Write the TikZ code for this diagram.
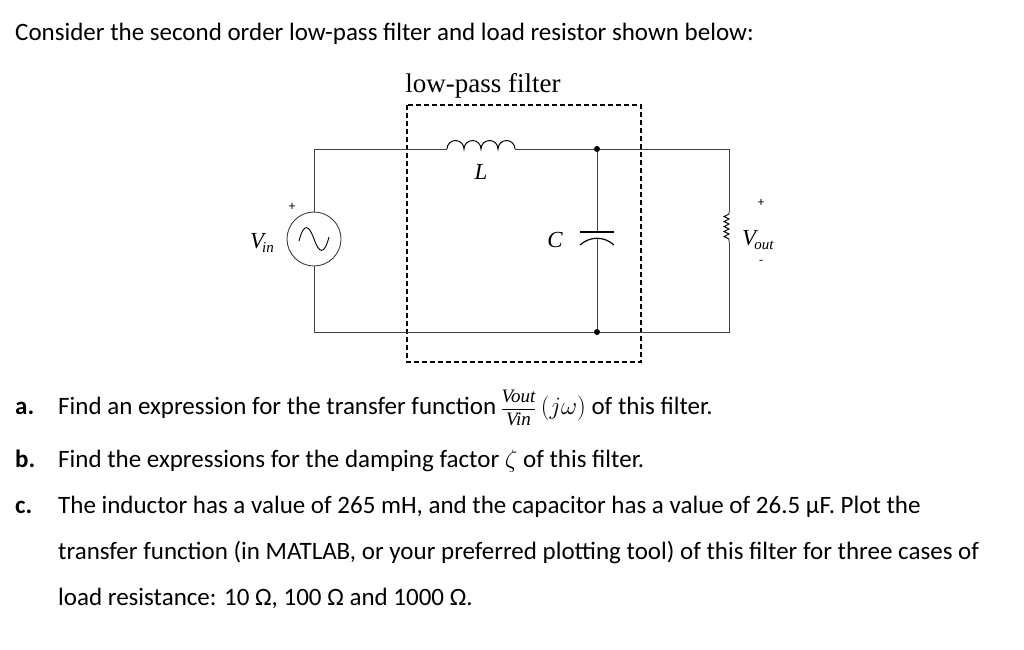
\documentclass[tikz,border=0pt]{standalone}
\usepackage{fontspec}
\setmainfont{Carlito}
\newfontfamily\serifx{Liberation Serif}
\begin{document}
\begin{tikzpicture}[x=1pt,y=-1pt,
  wire/.style={draw=black!75,line width=0.9pt},
  txt/.style={anchor=base west,inner sep=0pt,font=\fontsize{25}{30}\selectfont},
  lbl/.style={inner sep=0pt,font=\serifx\itshape\fontsize{23}{26}\selectfont},
  dot/.style={circle,fill=black,inner sep=0pt,minimum size=6pt}]
\useasboundingbox (0,0) rectangle (1024,649);
\node[txt] (t0) at (15,40) {Consider the second order low-pass filter and load resistor shown below:};
\node[inner sep=0pt,font=\serifx\fontsize{27}{30}\selectfont] (lp) at (483,86) {low-pass filter};
% dashed box
\draw[line width=1.3pt,dash pattern=on 5pt off 3pt] (407,105) rectangle (641,362);
% source
\node[circle,draw=black!75,line width=0.9pt,minimum size=54pt,inner sep=0pt] (src) at (314,239) {};
\draw[line width=0.9pt] (299,241) .. controls (304,222) and (309,225) .. (314,239) .. controls (319,253) and (324,256) .. (329,237);
\coordinate (tl) at (314,149);
\coordinate (bl) at (314,332);
\coordinate (tr) at (729,149);
\coordinate (br) at (729,332);
\coordinate (l1) at (447,149);
\coordinate (l2) at (515,149);
\node[dot] (ct) at (597,149) {};
\node[dot] (cb) at (597,332) {};
\coordinate (cp1) at (597,232);
\coordinate (cp2) at (597,239);
\coordinate (r1) at (729,212);
\coordinate (r2) at (729,242);
\path[wire] (src.north) -- (tl) -- (l1);
\path[wire] (l2) -- (ct) -- (tr) -- (r1);
\path[wire] (src.south) -- (bl) -- (cb) -- (br) -- (r2);
\path[wire] (ct) -- (cp1);
\path[wire] (cp2) -- (cb);
% inductor
\draw[line width=1pt] (l1) \foreach \i in {0,1,2,3} { arc[start angle=180,end angle=360,radius=8.5] };
% capacitor plates
\draw[line width=1.2pt] (580,232) -- (614,232);
\draw[line width=1.2pt] (580,245) .. controls (590,236) and (604,236) .. (614,245);
% resistor
\draw[line width=0.9pt] (r1) -- (729,214) -- (724,216.5) -- (729,219) -- (724,221.5) -- (729,224) -- (724,226.5) -- (729,229) -- (724,231.5) -- (729,234) -- (724,236.5) -- (729,239) -- (r2);
% labels
\node[lbl] (L) at (481,172) {L};
\node[lbl] (C) at (555,240) {C};
\node[lbl] (vin) at (262,243) {V\kern-2pt\raisebox{-4pt}{\fontsize{15}{15}\selectfont in}};
\node[inner sep=0pt,font=\fontsize{13}{13}\selectfont] (p1) at (292,207) {+};
\node[lbl,anchor=west] (vout) at (742,240) {V\kern-2pt\raisebox{-4pt}{\fontsize{15}{15}\selectfont out}};
\node[inner sep=0pt,font=\fontsize{13}{13}\selectfont] (p2) at (761,203) {+};
\node[inner sep=0pt,font=\fontsize{13}{13}\selectfont] (m2) at (761,262) {-};
% questions
\node[txt,font=\bfseries\fontsize{25}{30}\selectfont] (a) at (15,414) {a.};
\node[txt] (at) at (58,414) {Find an expression for the transfer function\,{\serifx\itshape\fontsize{19}{20}\selectfont$\displaystyle\frac{\hbox{\textit{Vout}}}{\hbox{\textit{Vin}}}$}\,$(j\omega)$ of this filter.};
\node[txt,font=\bfseries\fontsize{25}{30}\selectfont] (b) at (15,467) {b.};
\node[txt] (bt) at (58,467) {Find the expressions for the damping factor $\zeta$ of this filter.};
\node[txt,font=\bfseries\fontsize{25}{30}\selectfont] (c) at (15,513) {c.};
\node[txt] (ct1) at (58,513) {The inductor has a value of 265 mH, and the capacitor has a value of 26.5 µF. Plot the};
\node[txt] (ct2) at (58,559) {transfer function (in MATLAB, or your preferred plotting tool) of this filter for three cases of};
\node[txt] (ct3) at (58,605) {load resistance: 10 Ω, 100 Ω and 1000 Ω.};
\end{tikzpicture}
\end{document}
